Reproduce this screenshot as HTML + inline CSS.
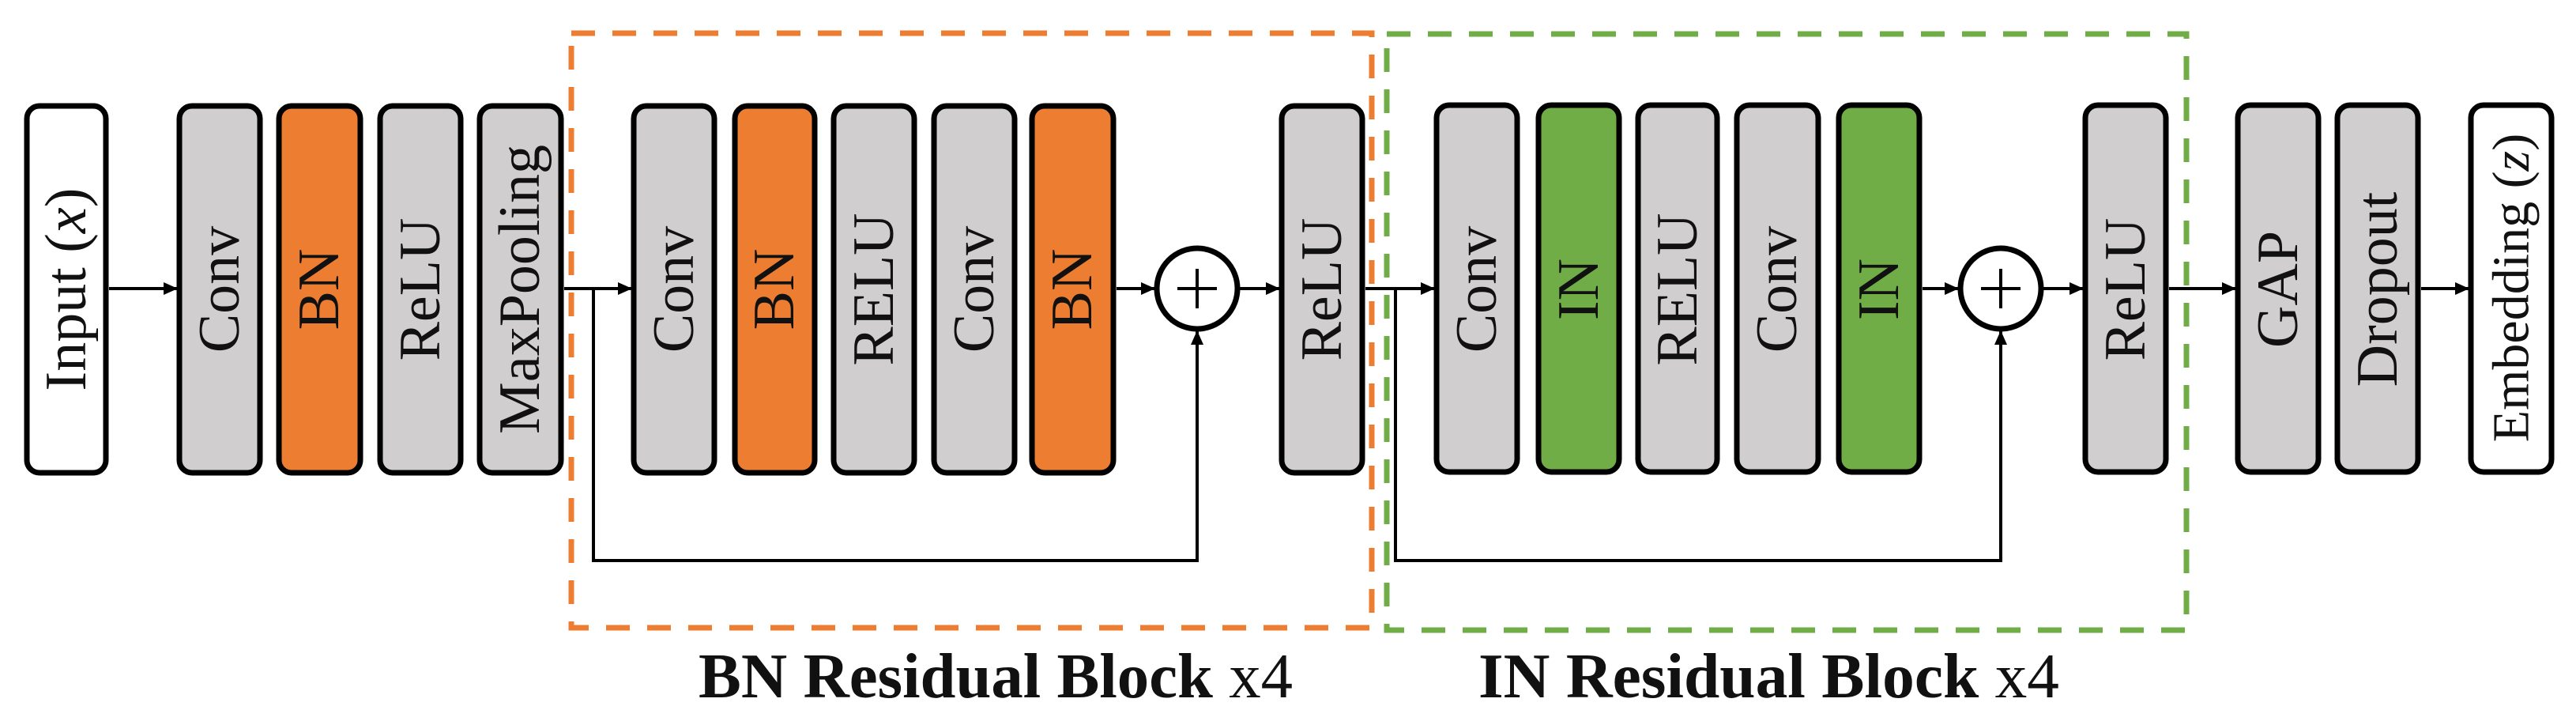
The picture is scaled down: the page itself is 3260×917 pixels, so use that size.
<!DOCTYPE html>
<html><head><meta charset="utf-8"><style>
html,body{margin:0;padding:0;background:#fff;}
svg{display:block;}
.t{font-family:"Liberation Serif",serif;font-size:74px;fill:#111;}
</style></head><body>
<svg width="3260" height="917" viewBox="0 0 3260 917" xmlns="http://www.w3.org/2000/svg">
<defs>
<marker id="a" markerWidth="18" markerHeight="16" refX="17" refY="8" orient="auto" markerUnits="userSpaceOnUse" viewBox="0 0 18 16">
<path d="M0,0 L18,8 L0,16 z" fill="#000"/>
</marker>
</defs>
<style>
.b{stroke:#000;stroke-width:7;}
.ln{stroke:#000;stroke-width:4;fill:none;}
</style>
<rect x="723" y="42" width="1013" height="752" fill="none" stroke="#ed7d31" stroke-width="7" stroke-dasharray="30,22"/>
<rect x="1755" y="43" width="1012" height="754" fill="none" stroke="#70ad47" stroke-width="7" stroke-dasharray="30,22"/>

<g>
<rect class="b" x="34" y="134" width="100" height="464" rx="16" fill="#fff"/>
<rect class="b" x="227" y="134" width="102" height="464" rx="16" fill="#d0cecf"/>
<rect class="b" x="353" y="134" width="103" height="464" rx="16" fill="#ed7d31"/>
<rect class="b" x="481" y="134" width="102" height="464" rx="16" fill="#d0cecf"/>
<rect class="b" x="607" y="134" width="103" height="464" rx="16" fill="#d0cecf"/>
<rect class="b" x="802" y="134" width="102" height="464" rx="16" fill="#d0cecf"/>
<rect class="b" x="930" y="134" width="101" height="464" rx="16" fill="#ed7d31"/>
<rect class="b" x="1055" y="134" width="102" height="464" rx="16" fill="#d0cecf"/>
<rect class="b" x="1182" y="134" width="102" height="464" rx="16" fill="#d0cecf"/>
<rect class="b" x="1306" y="134" width="103" height="464" rx="16" fill="#ed7d31"/>
<rect class="b" x="1622" y="134" width="102" height="464" rx="16" fill="#d0cecf"/>
<rect class="b" x="1818" y="133" width="102" height="464" rx="16" fill="#d0cecf"/>
<rect class="b" x="1947" y="133" width="102" height="464" rx="16" fill="#70ad47"/>
<rect class="b" x="2073" y="133" width="100" height="464" rx="16" fill="#d0cecf"/>
<rect class="b" x="2198" y="133" width="103" height="464" rx="16" fill="#d0cecf"/>
<rect class="b" x="2327" y="133" width="102" height="464" rx="16" fill="#70ad47"/>
<rect class="b" x="2639" y="133" width="102" height="464" rx="16" fill="#d0cecf"/>
<rect class="b" x="2832" y="133" width="102" height="464" rx="16" fill="#d0cecf"/>
<rect class="b" x="2958" y="133" width="102" height="464" rx="16" fill="#d0cecf"/>
<rect class="b" x="3127" y="133" width="102" height="464" rx="16" fill="#fff"/>
</g>

<g class="t" text-anchor="middle" dominant-baseline="central">
<text transform="translate(84,366) rotate(-90)">Input (<tspan font-style="italic">x</tspan>)</text>
<text transform="translate(278,366) rotate(-90)">Conv</text>
<text transform="translate(404,366) rotate(-90)">BN</text>
<text transform="translate(532,366) rotate(-90)">ReLU</text>
<text transform="translate(658,366) rotate(-90)">MaxPooling</text>
<text transform="translate(853,366) rotate(-90)">Conv</text>
<text transform="translate(980,366) rotate(-90)">BN</text>
<text transform="translate(1106,366) rotate(-90)">RELU</text>
<text transform="translate(1233,366) rotate(-90)">Conv</text>
<text transform="translate(1357,366) rotate(-90)">BN</text>
<text transform="translate(1673,366) rotate(-90)">ReLU</text>
<text transform="translate(1869,366) rotate(-90)">Conv</text>
<text transform="translate(1998,366) rotate(-90)">IN</text>
<text transform="translate(2123,366) rotate(-90)">RELU</text>
<text transform="translate(2249,366) rotate(-90)">Conv</text>
<text transform="translate(2378,366) rotate(-90)">IN</text>
<text transform="translate(2690,366) rotate(-90)">ReLU</text>
<text transform="translate(2883,366) rotate(-90)">GAP</text>
<text transform="translate(3009,366) rotate(-90)">Dropout</text>
<text transform="translate(3178,364) rotate(-90)" font-size="66">Embedding (<tspan font-style="italic">z</tspan>)</text>
</g>

<circle cx="1515" cy="365" r="51" fill="#fff" stroke="#000" stroke-width="7"/>
<path d="M1490,365 H1540 M1515,340 V390" class="ln"/>
<circle cx="2532" cy="365" r="51" fill="#fff" stroke="#000" stroke-width="7"/>
<path d="M2507,365 H2557 M2532,340 V390" class="ln"/>

<g class="ln" marker-end="url(#a)">
<line x1="138" y1="365" x2="224" y2="365"/>
<line x1="714" y1="365" x2="799" y2="365"/>
<line x1="1413" y1="365" x2="1461" y2="365"/>
<line x1="1569" y1="365" x2="1619" y2="365"/>
<polyline points="751,365 751,709 1515,709 1515,419"/>
<line x1="1728" y1="365" x2="1815" y2="365"/>
<line x1="2433" y1="365" x2="2478" y2="365"/>
<line x1="2586" y1="365" x2="2636" y2="365"/>
<polyline points="1766,365 1766,709 2532,709 2532,419"/>
<line x1="2745" y1="365" x2="2829" y2="365"/>
<line x1="3064" y1="365" x2="3124" y2="365"/>
</g>

<g font-family="Liberation Serif, serif" font-size="80" fill="#111">
<text x="884" y="882" textLength="752" lengthAdjust="spacingAndGlyphs"><tspan font-weight="bold">BN Residual Block</tspan> x4</text>
<text x="1871" y="882" textLength="735" lengthAdjust="spacingAndGlyphs"><tspan font-weight="bold">IN Residual Block</tspan> x4</text>
</g>
</svg>
</body></html>
